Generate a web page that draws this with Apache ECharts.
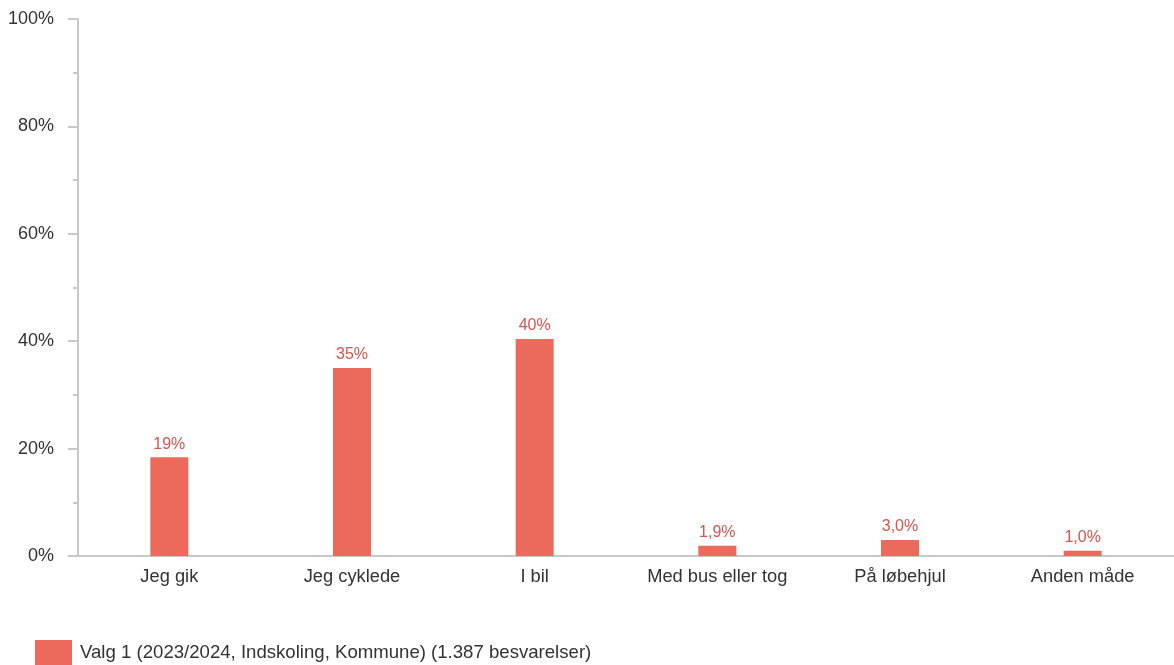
<!DOCTYPE html>
<html>
<head>
<meta charset="utf-8">
<script src="https://cdn.jsdelivr.net/npm/echarts@6/dist/echarts.min.js"></script>
<style>html,body{margin:0;padding:0;background:#fff}#c{width:1174px;height:665px}</style>
</head>
<body>
<div id="c"></div>
<script>
const categories = ['Jeg gik', 'Jeg cyklede', 'I bil', 'Med bus eller tog', 'På løbehjul', 'Anden måde'];
const values = [18.4, 35.0, 40.4, 1.9, 3.0, 1.0];
const valueLabels = ['19%', '35%', '40%', '1,9%', '3,0%', '1,0%'];
const seriesName = 'Valg 1 (2023/2024, Indskoling, Kommune) (1.387 besvarelser)';
const yTicks = [0, 20, 40, 60, 80, 100];

const chart = echarts.init(document.getElementById('c'), null, {renderer: 'canvas'});
const font = 'Liberation Sans, Arial, sans-serif';
chart.setOption({
  animation: false,
  grid: {left: 78, right: 0, top: 19, bottom: 109, containLabel: false},
  legend: {
    left: 35, top: 640, padding: 0, itemWidth: 37, itemHeight: 26, itemGap: 8,
    textStyle: {fontFamily: font, fontSize: 18.6, color: '#333', padding: [0, 0, 0, 3]},
    data: [{name: seriesName, icon: 'rect'}]
  },
  xAxis: {
    type: 'category', data: categories,
    axisLine: {lineStyle: {color: '#c8c8c8', width: 2}},
    axisTick: {show: false},
    axisLabel: {fontFamily: font, fontSize: 18.3, color: '#333', margin: 12}
  },
  yAxis: {
    type: 'value', min: yTicks[0], max: yTicks[yTicks.length - 1], interval: 20,
    axisLine: {show: true, lineStyle: {color: '#c8c8c8', width: 2}},
    axisTick: {show: true, length: 10, lineStyle: {color: '#c8c8c8', width: 2}},
    minorTick: {show: true, splitNumber: 2, length: 5, lineStyle: {color: '#c8c8c8', width: 2}},
    splitLine: {show: false},
    axisLabel: {fontFamily: font, fontSize: 18, color: '#333', margin: 24, formatter: v => v + '%'}
  },
  series: [{
    name: seriesName, type: 'bar', data: values, barWidth: 38,
    itemStyle: {color: '#eb6a5c'},
    label: {
      show: true, position: 'top', distance: 5,
      fontFamily: font, fontSize: 16, color: '#d9534f',
      formatter: p => valueLabels[p.dataIndex]
    }
  }]
});
</script>
</body>
</html>
